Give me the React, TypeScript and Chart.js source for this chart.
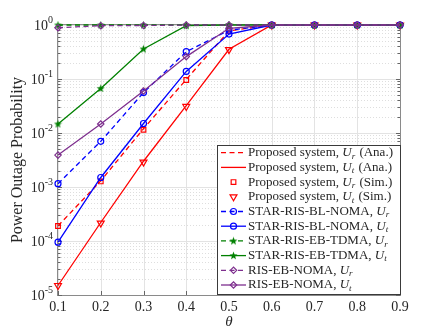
import React, { useEffect, useRef } from 'react';
import { Chart, registerables } from 'chart.js';
import { drawPoint } from 'chart.js/helpers';

Chart.register(...registerables);

// ---------- data ----------
const theta = [0.1, 0.2, 0.3, 0.4, 0.5, 0.6, 0.7, 0.8, 0.9];
const propUrAna = [1.9e-4, 1.3e-3, 0.012, 0.098, 0.78, 1, 1, 1, 1];
const propUtAna = [1.5e-5, 2.2e-4, 3.0e-3, 0.032, 0.355, 1, 1, 1, 1];
const propUrSim = [1.9e-4, 1.27e-3, 0.0115, 0.096, 0.78, 1, 1, 1, 1];
const propUtSim = [1.5e-5, 2.15e-4, 2.9e-3, 0.031, 0.35, 1, 1, 1, 1];
const blUr = [1.15e-3, 7.0e-3, 0.056, 0.32, 0.8, 1, 1, 1, 1];
const blUt = [9.5e-5, 1.5e-3, 0.015, 0.138, 0.68, 1, 1, 1, 1];
const ebUr = [1, 1, 1, 1, 1, 1, 1, 1, 1];
const ebUt = [0.0147, 0.067, 0.36, 0.97, 1, 1, 1, 1, 1];
const risUr = [0.89, 0.97, 0.98, 1, 1, 1, 1, 1, 1];
const risUt = [0.0039, 0.0147, 0.06, 0.26, 0.87, 1, 1, 1, 1];

const xTickLabels = ['0.1', '0.2', '0.3', '0.4', '0.5', '0.6', '0.7', '0.8', '0.9'];
const yTickExponents = [0, -1, -2, -3, -4, -5];
const yAxisTitle = 'Power Outage Probability';
const xAxisTitle = 'θ';

const legendPre = [
  'Proposed system, ', 'Proposed system, ', 'Proposed system, ', 'Proposed system, ',
  'STAR-RIS-BL-NOMA, ', 'STAR-RIS-BL-NOMA, ', 'STAR-RIS-EB-TDMA, ', 'STAR-RIS-EB-TDMA, ',
  'RIS-EB-NOMA, ', 'RIS-EB-NOMA, ',
];
const legendSub = ['r', 't', 'r', 't', 'r', 't', 'r', 't', 'r', 't'];
const legendPost = [' (Ana.)', ' (Ana.)', ' (Sim.)', ' (Sim.)', '', '', '', '', '', ''];

const RED = '#ff0000';
const BLUE = '#0000ff';
const GREEN = '#008000';
const PURPLE = '#7e2f8e';
const SERIF = '"Liberation Serif", "DejaVu Serif", serif';
const DASH = [5, 3.5];

function makeStar(color: string, size: number) {
  const c = document.createElement('canvas');
  c.width = size;
  c.height = size;
  const ctx = c.getContext('2d')!;
  const cx = size / 2, cy = size / 2 + 0.3, R = size / 2 - 0.3, r = R * 0.42;
  ctx.beginPath();
  for (let i = 0; i < 10; i++) {
    const a = -Math.PI / 2 + (i * Math.PI) / 5;
    const rr = i % 2 === 0 ? R : r;
    ctx.lineTo(cx + rr * Math.cos(a), cy + rr * Math.sin(a));
  }
  ctx.closePath();
  ctx.fillStyle = color;
  ctx.fill();
  return c;
}

type Series = {
  values: number[];
  color: string;
  dashed: boolean;
  line: boolean;
  pointStyle: any;
  radius: number;
  rotation: number;
};

export default function App() {
  const ref = useRef<HTMLCanvasElement>(null);

  useEffect(() => {
    const star = makeStar(GREEN, 9);
    const series: Series[] = [
      { values: propUrAna, color: RED, dashed: true, line: true, pointStyle: false, radius: 0, rotation: 0 },
      { values: propUtAna, color: RED, dashed: false, line: true, pointStyle: false, radius: 0, rotation: 0 },
      { values: propUrSim, color: RED, dashed: false, line: false, pointStyle: 'rect', radius: 3.3, rotation: 0 },
      { values: propUtSim, color: RED, dashed: false, line: false, pointStyle: 'triangle', radius: 4, rotation: 180 },
      { values: blUr, color: BLUE, dashed: true, line: true, pointStyle: 'circle', radius: 3, rotation: 0 },
      { values: blUt, color: BLUE, dashed: false, line: true, pointStyle: 'circle', radius: 3, rotation: 0 },
      { values: ebUr, color: GREEN, dashed: true, line: true, pointStyle: star, radius: 4.5, rotation: 0 },
      { values: ebUt, color: GREEN, dashed: false, line: true, pointStyle: star, radius: 4.5, rotation: 0 },
      { values: risUr, color: PURPLE, dashed: true, line: true, pointStyle: 'rectRot', radius: 3.2, rotation: 0 },
      { values: risUt, color: PURPLE, dashed: false, line: true, pointStyle: 'rectRot', radius: 3.2, rotation: 0 },
    ];

    const datasets = series.map((s, i) => ({
      label: legendPre[i] + 'U' + legendSub[i] + legendPost[i],
      data: theta.map((x, k) => ({ x, y: s.values[k] })),
      borderColor: s.color,
      backgroundColor: 'rgba(0,0,0,0)',
      borderWidth: 1.3,
      borderDash: s.dashed ? DASH : [],
      showLine: s.line,
      tension: 0,
      pointStyle: s.pointStyle,
      pointRadius: s.pointStyle ? s.radius : 0,
      pointRotation: s.rotation,
      pointBorderColor: s.color,
      pointBackgroundColor: 'rgba(0,0,0,0)',
      pointBorderWidth: 1.2,
      clip: false as any,
      order: 20 - i,
    }));

    const gridPlugin = {
      id: 'matlabGrid',
      beforeDatasetsDraw(chart: any) {
        const { ctx, chartArea: a, scales } = chart;
        const xs = scales.x, ys = scales.y;
        ctx.save();
        // minor dotted horizontal grid
        ctx.strokeStyle = '#dedede';
        ctx.lineWidth = 1;
        ctx.setLineDash([1, 2]);
        for (let e = -5; e < 0; e++) {
          for (let m = 2; m <= 9; m++) {
            const y = Math.round(ys.getPixelForValue(m * Math.pow(10, e))) + 0.5;
            ctx.beginPath();
            ctx.moveTo(a.left, y);
            ctx.lineTo(a.right, y);
            ctx.stroke();
          }
        }
        ctx.setLineDash([]);
        ctx.strokeStyle = '#e3e3e3';
        for (const e of yTickExponents) {
          const y = Math.round(ys.getPixelForValue(Math.pow(10, e))) + 0.5;
          ctx.beginPath();
          ctx.moveTo(a.left, y);
          ctx.lineTo(a.right, y);
          ctx.stroke();
        }
        for (const t of theta) {
          const x = Math.round(xs.getPixelForValue(t)) + 0.5;
          ctx.beginPath();
          ctx.moveTo(x, a.top);
          ctx.lineTo(x, a.bottom);
          ctx.stroke();
        }
        // box
        ctx.strokeStyle = '#8a8a8a';
        ctx.lineWidth = 1;
        ctx.strokeRect(Math.round(a.left) - 0.5, Math.round(a.top) - 0.5, Math.round(a.right - a.left) + 1, Math.round(a.bottom - a.top) + 1);
        // ticks
        ctx.strokeStyle = '#666';
        for (let e = -5; e <= 0; e++) {
          for (let m = 1; m <= 9; m++) {
            if (e === 0 && m > 1) break;
            const y = Math.round(ys.getPixelForValue(m * Math.pow(10, e))) + 0.5;
            const len = m === 1 ? 4 : 2.5;
            ctx.beginPath();
            ctx.moveTo(a.left, y);
            ctx.lineTo(a.left + len, y);
            ctx.moveTo(a.right, y);
            ctx.lineTo(a.right - len, y);
            ctx.stroke();
          }
        }
        for (const t of theta) {
          const x = Math.round(xs.getPixelForValue(t)) + 0.5;
          ctx.beginPath();
          ctx.moveTo(x, a.bottom);
          ctx.lineTo(x, a.bottom - 4);
          ctx.moveTo(x, a.top);
          ctx.lineTo(x, a.top + 4);
          ctx.stroke();
        }
        ctx.restore();
      },
      afterDraw(chart: any) {
        const { ctx, chartArea: a, scales } = chart;
        const xs = scales.x, ys = scales.y;
        ctx.save();
        ctx.fillStyle = '#262626';
        // x tick labels
        ctx.font = `14px ${SERIF}`;
        ctx.textAlign = 'center';
        ctx.textBaseline = 'middle';
        theta.forEach((t, i) => {
          ctx.fillText(xTickLabels[i], xs.getPixelForValue(t), a.bottom + 12);
        });
        // y tick labels with superscript
        for (const e of yTickExponents) {
          const y = ys.getPixelForValue(Math.pow(10, e));
          const expStr = String(e);
          ctx.font = `10px ${SERIF}`;
          const we = ctx.measureText(expStr).width;
          ctx.font = `14px ${SERIF}`;
          const wb = ctx.measureText('10').width;
          const xr = a.left - 5;
          ctx.textAlign = 'left';
          ctx.textBaseline = 'middle';
          ctx.fillText('10', xr - we - wb, y + 1);
          ctx.font = `10px ${SERIF}`;
          ctx.fillText(expStr, xr - we, y - 5);
        }
        // axis titles
        ctx.font = `italic 15px ${SERIF}`;
        ctx.textAlign = 'center';
        ctx.textBaseline = 'middle';
        ctx.fillText(xAxisTitle, (a.left + a.right) / 2, a.bottom + 27);
        ctx.save();
        ctx.translate(18, (a.top + a.bottom) / 2);
        ctx.rotate(-Math.PI / 2);
        ctx.font = `16px ${SERIF}`;
        ctx.fillText(yAxisTitle, 0, 0);
        ctx.restore();

        // legend
        const lx = 217.5, ly = 145.5, lw = 183, lh = 149;
        ctx.fillStyle = '#ffffff';
        ctx.fillRect(lx, ly, lw, lh);
        ctx.strokeStyle = '#3a3a3a';
        ctx.lineWidth = 1;
        ctx.setLineDash([]);
        ctx.strokeRect(lx, ly, lw, lh);
        series.forEach((s, i) => {
          const y = 152.7 + i * 14.7;
          if (s.line) {
            ctx.strokeStyle = s.color;
            ctx.lineWidth = 1.3;
            ctx.setLineDash(s.dashed ? DASH : []);
            ctx.beginPath();
            ctx.moveTo(221, y);
            ctx.lineTo(246, y);
            ctx.stroke();
            ctx.setLineDash([]);
          }
          if (s.pointStyle) {
            ctx.strokeStyle = s.color;
            ctx.fillStyle = 'rgba(0,0,0,0)';
            ctx.lineWidth = 1.2;
            drawPoint(ctx, { pointStyle: s.pointStyle, radius: s.radius, rotation: s.rotation, borderWidth: 1.2 } as any, 233.5, y);
          }
          ctx.fillStyle = '#262626';
          ctx.textAlign = 'left';
          ctx.textBaseline = 'middle';
          let x = 248;
          ctx.font = `13px ${SERIF}`;
          ctx.fillText(legendPre[i], x, y);
          x += ctx.measureText(legendPre[i]).width;
          ctx.font = `italic 13px ${SERIF}`;
          ctx.fillText('U', x, y);
          x += ctx.measureText('U').width;
          ctx.font = `italic 9px ${SERIF}`;
          ctx.fillText(legendSub[i], x, y + 3.5);
          x += ctx.measureText(legendSub[i]).width + 1;
          if (legendPost[i]) {
            ctx.font = `13px ${SERIF}`;
            ctx.fillText(legendPost[i], x, y);
          }
        });
        ctx.restore();
      },
    };

    const chart = new Chart(ref.current!, {
      type: 'line',
      data: { datasets: datasets as any },
      options: {
        animation: false,
        responsive: false,
        maintainAspectRatio: false,
        layout: { padding: { left: 58, right: 43, top: 25, bottom: 37 } },
        plugins: { legend: { display: false }, tooltip: { enabled: false } },
        scales: {
          x: { type: 'linear', min: 0.1, max: 0.9, display: false },
          y: { type: 'logarithmic', min: 1e-5, max: 1, display: false },
        },
      },
      plugins: [gridPlugin],
    });
    return () => chart.destroy();
  }, []);

  return (
    <div style={{ position: 'absolute', left: 0, top: 0, width: 443, height: 332, background: '#ffffff' }}>
      <canvas ref={ref} width={443} height={332} style={{ display: 'block', width: 443, height: 332 }} />
    </div>
  );
}
